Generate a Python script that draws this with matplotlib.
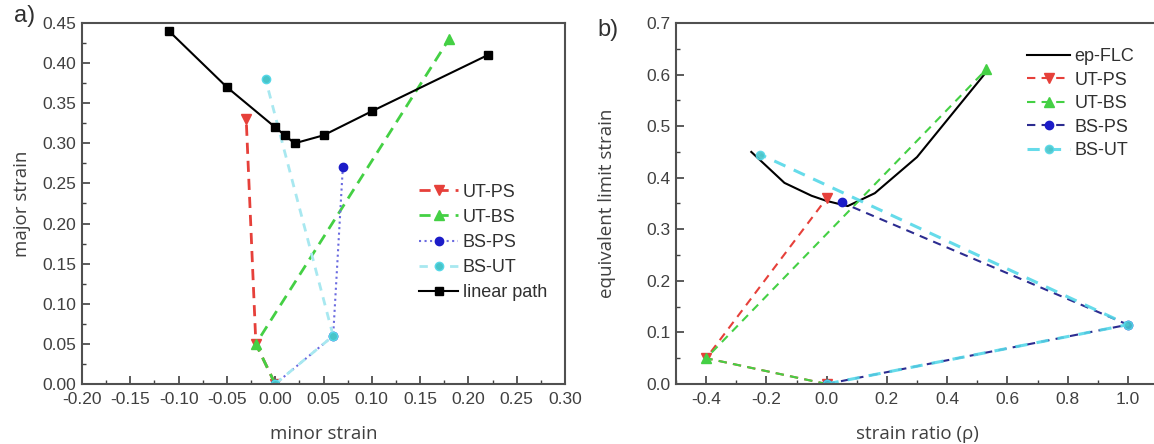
import matplotlib.pyplot as plt
from matplotlib.ticker import MultipleLocator, FormatStrFormatter

# panel a) major vs minor strain
lin_x = [-0.11, -0.05, 0.0, 0.01, 0.02, 0.05, 0.10, 0.22]
lin_y = [0.44, 0.37, 0.32, 0.31, 0.30, 0.31, 0.34, 0.41]
a_utps_x = [0.0, -0.02, -0.03]
a_utps_y = [0.0, 0.05, 0.33]
a_utbs_x = [0.0, -0.02, 0.18]
a_utbs_y = [0.0, 0.05, 0.43]
a_bsps_x = [0.0, 0.06, 0.07]
a_bsps_y = [0.0, 0.06, 0.27]
a_bsut_x = [0.0, 0.06, -0.01]
a_bsut_y = [0.0, 0.06, 0.38]

# panel b) equivalent limit strain vs strain ratio
flc_x = [-0.25, -0.14, -0.05, 0.0, 0.07, 0.16, 0.30, 0.53]
flc_y = [0.45, 0.39, 0.365, 0.355, 0.345, 0.37, 0.44, 0.605]
b_utps_x = [0.0, -0.40, 0.0]
b_utps_y = [0.0, 0.05, 0.36]
b_utbs_x = [0.0, -0.40, 0.53]
b_utbs_y = [0.0, 0.05, 0.61]
b_bsps_x = [0.0, 1.0, 0.05]
b_bsps_y = [0.0, 0.115, 0.352]
b_bsut_x = [0.0, 1.0, -0.22]
b_bsut_y = [0.0, 0.115, 0.445]

RED = '#e6403a'
GREEN = '#44d044'
BLUE = '#1c1cc8'
NAVY = '#2c2c90'
CYAN = '#55d8e8'
CYAN_M = '#48c4c8'
LABEL_FONT = ['Open Sans', 'DejaVu Sans']

plt.rcParams['font.family'] = ['Liberation Sans', 'DejaVu Sans']

fig = plt.figure(figsize=(11.54, 4.44), dpi=100)
W, H = 1154, 444
ax1 = fig.add_axes([82 / W, 60 / H, 483 / W, 361 / H])
ax2 = fig.add_axes([676 / W, 60 / H, 482 / W, 361 / H])

for ax in (ax1, ax2):
    for s in ax.spines.values():
        s.set_color('#505050')
        s.set_linewidth(1.5)
    ax.tick_params(direction='in', which='both', top=False, right=False,
                   labelsize=12.5, labelcolor='#404040', color='#404040')
    ax.tick_params(which='major', length=6, width=1.2)
    ax.tick_params(which='minor', length=3, width=1.0)
    ax.tick_params(axis='x', pad=6)
    ax.tick_params(axis='y', pad=4)

# ---- panel a
ax1.plot(a_utps_x, a_utps_y, color=RED, ls=(0, (4, 2.5)), lw=2, marker='v',
         ms=7, label='UT-PS')
ax1.plot(a_utbs_x, a_utbs_y, color=GREEN, ls=(0, (4, 2.5)), lw=2, marker='^',
         ms=7, label='UT-BS')
ax1.plot(a_bsps_x, a_bsps_y, color='#6a6ae0', ls=':', lw=1.5, marker='o',
         ms=6, mfc=BLUE, mec=BLUE, label='BS-PS')
ax1.plot(a_bsut_x, a_bsut_y, color='#a8e8f0', ls=(0, (3, 2.5)), lw=2, marker='o',
         ms=6, mfc=CYAN_M, mec=CYAN, label='BS-UT')
ax1.plot(lin_x, lin_y, color='black', lw=1.5, marker='s', ms=5.5,
         label='linear path')
ax1.set_xlim(-0.20, 0.30)
ax1.set_ylim(0, 0.45)
ax1.xaxis.set_major_locator(MultipleLocator(0.05))
ax1.xaxis.set_minor_locator(MultipleLocator(0.025))
ax1.yaxis.set_major_locator(MultipleLocator(0.05))
ax1.yaxis.set_minor_locator(MultipleLocator(0.025))
ax1.xaxis.set_major_formatter(FormatStrFormatter('%.2f'))
ax1.yaxis.set_major_formatter(FormatStrFormatter('%.2f'))
ax1.set_xlabel('minor strain', fontsize=13.5, color='#404040',
               family=LABEL_FONT, labelpad=13)
ax1.set_ylabel('major strain', fontsize=13.5, color='#404040',
               family=LABEL_FONT, labelpad=8)
ax1.legend(loc='upper left', bbox_to_anchor=(0.697, 0.555), frameon=False,
           borderpad=0, borderaxespad=0, handlelength=2.2, handletextpad=0.25,
           labelspacing=0.45, fontsize=13, labelcolor='#303030')

# ---- panel b
ax2.plot(flc_x, flc_y, color='black', lw=1.5, label='ep-FLC')
ax2.plot(b_utps_x, b_utps_y, color=RED, ls=(0, (4, 3)), lw=1.5, marker='v',
         ms=7, label='UT-PS')
ax2.plot(b_utbs_x, b_utbs_y, color=GREEN, ls=(0, (4, 3)), lw=1.5, marker='^',
         ms=7, label='UT-BS')
ax2.plot(b_bsps_x, b_bsps_y, color=NAVY, ls=(0, (4, 3)), lw=1.5, marker='o',
         ms=6, mfc=BLUE, mec=BLUE, label='BS-PS')
ax2.plot(b_bsut_x, b_bsut_y, color=CYAN, ls=(0, (4, 3)), lw=2.2, marker='o',
         ms=6, mfc=CYAN_M, mec=CYAN, label='BS-UT', alpha=0.9)
ax2.set_xlim(-0.5, 1.1)
ax2.set_ylim(0, 0.7)
ax2.xaxis.set_major_locator(MultipleLocator(0.2))
ax2.xaxis.set_minor_locator(MultipleLocator(0.1))
ax2.yaxis.set_major_locator(MultipleLocator(0.1))
ax2.yaxis.set_minor_locator(MultipleLocator(0.05))
ax2.xaxis.set_major_formatter(FormatStrFormatter('%.1f'))
ax2.yaxis.set_major_formatter(FormatStrFormatter('%.1f'))
ax2.set_xlabel('strain ratio (ρ)', fontsize=13.5, color='#404040',
               family=LABEL_FONT, labelpad=13)
ax2.set_ylabel('equivalent limit strain', fontsize=13.5, color='#404040',
               family=LABEL_FONT, labelpad=22)
ax2.legend(loc='upper left', bbox_to_anchor=(0.728, 0.93), frameon=False,
           borderpad=0, borderaxespad=0, handlelength=2.4, handletextpad=0.25,
           labelspacing=0.36, fontsize=13, labelcolor='#303030')

fig.text(14 / W, 1 - 16 / H, 'a)', fontsize=17, color='#303030', va='center')
fig.text(597 / W, 1 - 30 / H, 'b)', fontsize=17, color='#303030', va='center')

fig.savefig('out.png', dpi=100)
